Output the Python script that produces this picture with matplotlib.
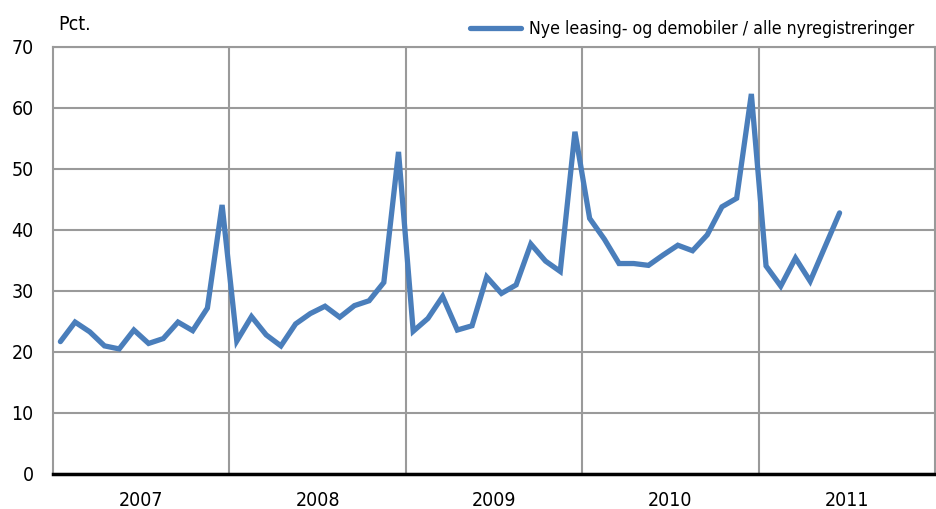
import matplotlib.pyplot as plt
import numpy as np

plt.rcParams["font.family"] = ["DejaVu Sans"]
plt.rcParams["font.stretch"] = "condensed"

# Monthly share, Jan 2007 - Jun 2011
values_2007 = [21.7, 24.9, 23.3, 21.0, 20.5, 23.6, 21.4, 22.2, 24.9, 23.5, 27.2, 44.1]
values_2008 = [21.8, 25.8, 22.8, 21.0, 24.6, 26.3, 27.5, 25.7, 27.6, 28.4, 31.4, 52.8]
values_2009 = [23.4, 25.5, 29.1, 23.6, 24.3, 32.3, 29.6, 31.0, 37.7, 34.9, 33.2, 56.1]
values_2010 = [41.9, 38.5, 34.5, 34.5, 34.2, 35.9, 37.5, 36.6, 39.2, 43.8, 45.2, 62.3]
values_2011 = [34.1, 30.8, 35.4, 31.6, 37.2, 42.8]
years = ["2007", "2008", "2009", "2010", "2011"]
series_label = "Nye leasing- og demobiler / alle nyregistreringer"

values = values_2007 + values_2008 + values_2009 + values_2010 + values_2011
x = np.arange(len(values)) + 0.5  # month centres, in months from Jan 2007

fig = plt.figure(figsize=(9.37, 5.09), dpi=100)
ax = fig.add_axes([0.0566, 0.0688, 0.9414, 0.8389])

grid_c = "#9a9a9a"
ax.plot(x, values, color="#4a7ebb", lw=3.8, solid_joinstyle="miter",
        solid_capstyle="round", label=series_label, zorder=3)

ax.set_xlim(0, 12 * len(years))
ax.set_ylim(0, 70)
ax.set_yticks(range(0, 71, 10))
ax.set_xticks(np.arange(len(years)) * 12 + 6)
ax.set_xticklabels(years)
ax.set_xticks(np.arange(1, len(years)) * 12, minor=True)
ax.tick_params(axis="both", which="both", length=0, labelsize=14)
ax.tick_params(axis="x", pad=12)
ax.tick_params(axis="y", pad=14)

ax.grid(axis="y", which="major", color=grid_c, lw=1.5)
ax.grid(axis="x", which="minor", color=grid_c, lw=1.5)
ax.grid(axis="x", which="major", visible=False)
ax.set_axisbelow(True)

for side in ["left", "right", "top"]:
    ax.spines[side].set_color(grid_c)
    ax.spines[side].set_linewidth(1.5)
ax.spines["bottom"].set_color("black")
ax.spines["bottom"].set_linewidth(2.5)

fig.text(58 / 937, 1 - 24 / 509, "Pct.", fontsize=14, va="center", ha="left")

ax.legend(loc="lower right", bbox_to_anchor=(0.984, 1.005), frameon=False,
          fontsize=12.7, handlelength=2.9, handletextpad=0.45, borderaxespad=0)

fig.savefig("out.png", dpi=100)
